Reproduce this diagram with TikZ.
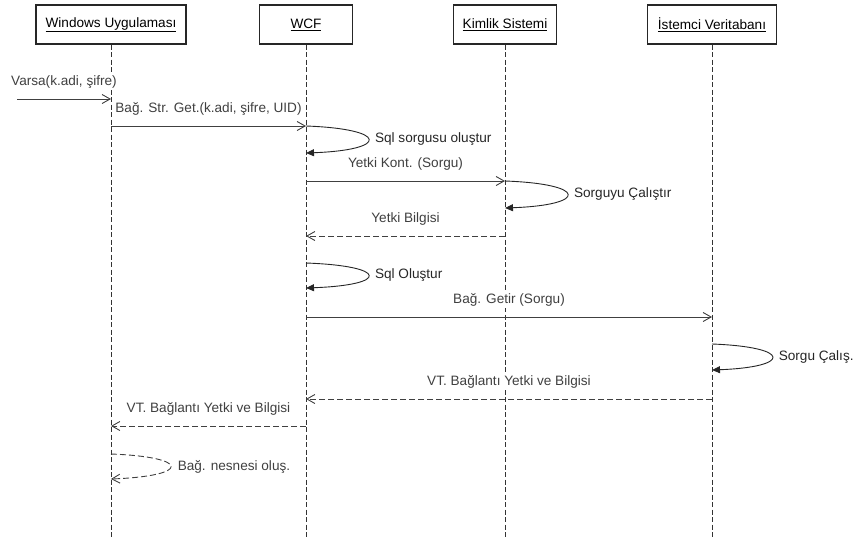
\documentclass[tikz,border=0pt]{standalone}
\usepackage{fontspec}
\setmainfont{Liberation Sans}
\usetikzlibrary{arrows.meta}

\begin{document}
\begin{tikzpicture}[x=1pt,y=-1pt]
\tikzstyle{every node}=[font=\fontsize{13.6}{16}\selectfont]
\tikzstyle{box}=[draw=black!85,line width=1.2pt,minimum height=39pt,inner sep=0pt]
\tikzstyle{lifeline}=[black!80,line width=0.8pt,dash pattern=on 5pt off 2.5pt]
\tikzstyle{msg}=[black!75,line width=0.9pt,-{Straight Barb[length=8pt,width=9pt]}]
\tikzstyle{reply}=[msg,dash pattern=on 6pt off 3pt]
\tikzstyle{selfcall}=[black!85,line width=0.9pt,-{Triangle[length=8pt,width=7pt]}]
\tikzstyle{lbl}=[midway,yshift=17pt,fill=white,inner sep=1.5pt]
\tikzstyle{looplbl}=[midway,anchor=west,xshift=3pt]

	\useasboundingbox (0,0) rectangle (857,538);

	% objects and their lifelines
	\node[box,minimum width=150pt] (win) at (111,24.5) {\underline{Windows Uygulaması}};
	\node[box,minimum width=93pt] (wcf) at (306,24.5) {\underline{WCF}};
	\node[box,minimum width=103pt] (kim) at (505,24.5) {\underline{Kimlik Sistemi}};
	\node[box,minimum width=129pt] (vt) at (712,24.5) {\underline{İstemci Veritabanı}};

	\foreach \n in {win,wcf,kim,vt} {
		\draw[lifeline] (\n.south) -- (\n.south |- 0,538);
	}

	% messages
	\coordinate (start) at (17,99);
	\draw[msg] (start) -- (win |- start) node[lbl]{Varsa(k.adi, şifre)};
	\draw[msg] (win |- 0,126) -- (wcf |- 0,126) node[lbl]{Bağ. Str. Get.(k.adi, şifre, UID)};
	\draw[selfcall] (wcf |- 0,126) .. controls +(83,3) and +(83,-3) .. (wcf |- 0,153)
		node[looplbl]{Sql sorgusu oluştur};
	\draw[msg] (wcf |- 0,181) -- (kim |- 0,181) node[lbl]{Yetki Kont. (Sorgu)};
	\draw[selfcall] (kim |- 0,181) .. controls +(83,3) and +(83,-3) .. (kim |- 0,208)
		node[looplbl]{Sorguyu Çalıştır};
	\draw[reply] (kim |- 0,236) -- (wcf |- 0,236) node[lbl]{Yetki Bilgisi};
	\draw[selfcall] (wcf |- 0,263) .. controls +(83,3) and +(83,-3) .. (wcf |- 0,288)
		node[looplbl]{Sql Oluştur};
	\draw[msg] (wcf |- 0,317) -- (vt |- 0,317) node[lbl]{Bağ. Getir (Sorgu)};
	\draw[selfcall] (vt |- 0,344) .. controls +(80,3) and +(80,-3) .. (vt |- 0,370)
		node[looplbl]{Sorgu Çalış.};
	\draw[reply] (vt |- 0,399) -- (wcf |- 0,399) node[lbl]{VT. Bağlantı Yetki ve Bilgisi};
	\draw[reply] (wcf |- 0,426) -- (win |- 0,426) node[lbl]{VT. Bağlantı Yetki ve Bilgisi};
	\draw[reply] (win |- 0,454) .. controls +(80,3) and +(80,-3) .. (win |- 0,479)
		node[looplbl]{Bağ. nesnesi oluş.};
\end{tikzpicture}
\end{document}
